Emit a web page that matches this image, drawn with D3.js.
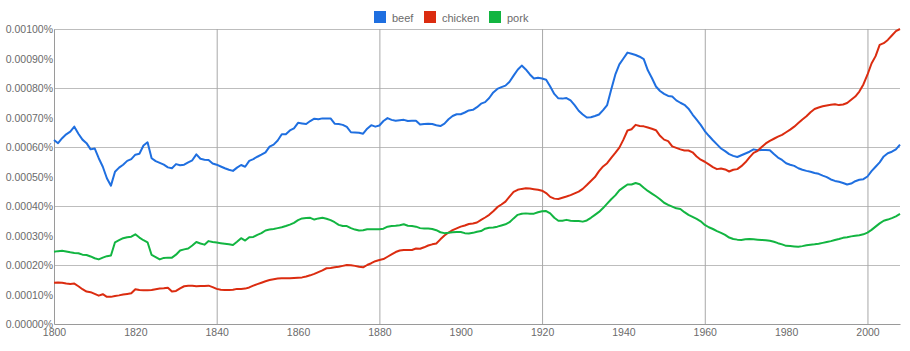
<!DOCTYPE html>
<html>
<head>
<meta charset="utf-8">
<script src="https://cdn.jsdelivr.net/npm/d3@7"></script>
<style>
    body { margin: 0; background: #fff; }
    #ngram-chart { width: 910px; height: 351px; }
    .chart-labels { font-family: "Liberation Sans", Arial, Helvetica, sans-serif; fill: #6b6b6b; }
</style>
</head>
<body>
<div id="ngram-chart"></div>
<script>
/* ----------------------- Data (values in units of 0.00001%) ----------------------- */
const startYear = 1800;
const endYear = 2008;
const seriesNames = ["beef", "chicken", "pork"];
const seriesColors = ["#1f6fe0", "#db2c10", "#12b541"];

const beef = [
    62.4, 61.3, 63.0, 64.3, 65.2, 66.9, 64.5, 62.5, 61.3, 59.2,
    59.5, 56.2, 53.3, 49.4, 46.9, 51.6, 53.0, 54.0, 55.3, 55.9,
    57.4, 57.7, 60.5, 61.6, 56.2, 55.2, 54.6, 54.0, 53.1, 52.8,
    54.2, 53.8, 54.0, 54.8, 55.5, 57.5, 56.0, 55.7, 55.6, 54.4,
    54.0, 53.4, 52.8, 52.3, 51.9, 53.0, 53.9, 53.3, 55.3, 55.9,
    56.7, 57.4, 58.2, 60.1, 60.8, 62.2, 64.3, 64.3, 65.6, 66.3,
    68.2, 68.0, 67.8, 68.8, 69.6, 69.4, 69.7, 69.7, 69.7, 67.9,
    67.8, 67.5, 66.8, 65.0, 64.9, 64.8, 64.5, 66.2, 67.4, 66.9,
    67.3, 68.8, 69.8, 69.2, 68.9, 69.1, 69.2, 68.8, 68.9, 68.9,
    67.6, 67.8, 67.9, 67.8, 67.4, 67.1, 67.9, 69.4, 70.5, 71.1,
    71.1, 71.7, 72.4, 72.6, 73.5, 74.7, 75.2, 76.6, 78.5, 79.7,
    80.3, 80.8, 82.1, 84.2, 86.2, 87.6, 86.3, 84.6, 83.2, 83.5,
    83.2, 82.8, 80.5, 78.0, 76.5, 76.4, 76.6, 75.8, 74.2, 72.3,
    71.0, 70.0, 70.1, 70.5, 71.0, 72.5, 74.2, 79.5, 84.5, 88.0,
    90.0, 92.0, 91.6, 91.2, 90.6, 89.8, 86.0, 83.4, 80.5, 79.0,
    78.0, 77.3, 77.1, 75.8, 75.0, 74.3, 73.0, 71.0, 69.3, 67.5,
    65.4, 63.8, 62.3, 60.9, 59.5, 58.6, 57.6, 57.0, 56.6, 57.2,
    57.8, 58.4, 59.2, 58.9, 59.0, 59.0, 58.9, 57.6, 56.4, 55.6,
    54.5, 54.0, 53.6, 52.8, 52.3, 51.9, 51.6, 51.2, 50.9, 50.3,
    49.8, 49.0, 48.5, 48.2, 47.8, 47.3, 47.6, 48.4, 48.9, 49.1,
    50.0, 51.8, 53.3, 54.8, 56.8, 57.9, 58.4, 59.2, 60.8
];

const chicken = [
    14.0, 14.1, 14.0, 13.7, 13.6, 13.7, 12.8, 11.8, 11.0, 10.8,
    10.2, 9.6, 10.1, 9.2, 9.2, 9.5, 9.7, 10.0, 10.2, 10.4,
    11.8, 11.5, 11.4, 11.4, 11.5, 11.8, 12.0, 12.1, 12.3, 11.0,
    11.2, 12.1, 12.8, 13.0, 13.0, 12.8, 12.9, 12.9, 13.0, 12.5,
    11.9, 11.6, 11.5, 11.5, 11.6, 11.9, 11.9, 12.0, 12.4, 13.0,
    13.5, 14.0, 14.5, 14.9, 15.2, 15.4, 15.5, 15.5, 15.5, 15.6,
    15.7, 15.8, 16.1, 16.5, 17.0, 17.6, 18.2, 18.9, 19.0, 19.2,
    19.4, 19.7, 20.0, 19.9, 19.7, 19.4, 19.2, 20.0, 20.6, 21.3,
    21.7, 22.0, 22.8, 23.6, 24.4, 24.9, 25.1, 25.1, 25.1, 25.6,
    25.5, 26.0, 26.6, 27.0, 27.3, 28.7, 30.0, 31.0, 31.8, 32.4,
    33.0, 33.4, 33.9, 34.1, 34.4, 35.3, 36.1, 37.0, 38.2, 39.6,
    40.5, 41.5, 43.2, 44.8, 45.5, 45.8, 46.0, 45.9, 45.7, 45.5,
    45.2, 44.4, 43.1, 42.5, 42.4, 42.8, 43.2, 43.7, 44.3, 44.9,
    45.8, 47.1, 48.5, 49.8, 51.8, 53.4, 54.5, 56.3, 58.0, 59.8,
    62.5, 65.6, 66.0, 67.5, 67.1, 67.0, 66.6, 66.2, 65.7, 63.8,
    62.5, 62.0, 60.2, 59.7, 59.2, 58.8, 58.8, 58.2, 56.8, 55.7,
    55.0, 54.1, 53.2, 52.5, 52.7, 52.4, 51.7, 52.3, 52.5, 53.5,
    54.8, 56.5, 58.0, 58.7, 60.0, 61.2, 62.1, 62.8, 63.5, 64.1,
    65.0, 65.9, 66.9, 68.1, 69.3, 70.4, 71.8, 72.9, 73.4, 73.8,
    74.1, 74.3, 74.5, 74.2, 74.4, 74.9, 76.0, 77.1, 78.8, 81.2,
    84.5, 88.3, 90.8, 94.6, 95.2, 96.3, 97.8, 99.3, 100.0
];

const pork = [
    24.5, 24.7, 24.8, 24.6, 24.3, 24.1, 24.0, 23.5, 23.4, 22.9,
    22.3, 21.9, 22.5, 23.0, 23.2, 27.7, 28.4, 29.1, 29.4, 29.6,
    30.4, 29.3, 28.4, 27.7, 23.4, 22.7, 21.9, 22.4, 22.5, 22.5,
    23.5, 24.9, 25.3, 25.6, 26.6, 27.8, 27.3, 26.9, 28.1, 27.8,
    27.6, 27.4, 27.2, 27.0, 26.8, 27.9, 29.1, 28.3, 29.4, 29.5,
    30.2, 30.8, 31.7, 32.0, 32.2, 32.5, 32.8, 33.2, 33.7, 34.3,
    35.2, 35.8, 35.9, 36.0, 35.4, 35.8, 36.0, 35.7, 35.2, 34.5,
    33.6, 33.2, 33.2, 32.5, 32.0, 31.7, 31.8, 32.1, 32.1, 32.1,
    32.1, 32.3, 33.0, 33.2, 33.3, 33.5, 33.8, 33.3, 33.2, 33.0,
    32.5, 32.4, 32.4, 32.2, 31.8, 31.1, 30.8, 30.9, 31.1, 31.2,
    31.2, 30.8, 30.7, 30.9, 31.3, 31.5, 32.3, 32.6, 32.7, 33.0,
    33.4, 33.8, 34.5, 35.8, 37.0, 37.4, 37.5, 37.4, 37.4, 37.9,
    38.2, 38.3, 37.5, 36.0, 35.0, 35.0, 35.3, 35.0, 34.9, 34.9,
    34.7, 35.1, 36.0, 37.0, 38.0, 39.3, 40.8, 42.3, 43.6, 45.3,
    46.3, 47.3, 47.3, 47.8, 47.4, 46.2, 45.1, 44.2, 43.3, 42.3,
    41.1, 40.4, 39.8, 39.2, 39.0, 37.9, 37.0, 36.3, 35.6, 34.8,
    33.6, 32.8, 32.2, 31.5, 30.9, 30.2, 29.3, 28.8, 28.6, 28.5,
    28.7, 28.8, 28.7, 28.6, 28.5, 28.4, 28.2, 27.9, 27.4, 27.0,
    26.5, 26.4, 26.3, 26.2, 26.4, 26.7, 26.9, 27.0, 27.2, 27.5,
    27.8, 28.1, 28.5, 28.8, 29.2, 29.4, 29.7, 29.9, 30.1, 30.4,
    31.0, 31.9, 33.0, 34.1, 35.0, 35.4, 35.9, 36.5, 37.3
];

const yTickValues = d3.range(0, 101, 10);
const yGridValues = d3.range(20, 101, 20);
const xTickValues = d3.range(1800, 2001, 20);
const xGridValues = [1840, 1880, 1920, 1960, 2000];

(function () {
    const containerWidth = 910;
    const containerHeight = 351;
    const margin = { top: 29, right: 10, bottom: 27, left: 54 };
    const width = containerWidth - margin.left - margin.right;
    const height = containerHeight - margin.top - margin.bottom;

    const root = d3.select("#ngram-chart")
        .append("svg")
        .attr("width", containerWidth)
        .attr("height", containerHeight);

    const svg = root.append("g")
        .attr("transform", `translate(${margin.left},${margin.top})`);

    /* ----------------------- Scales ----------------------- */
    const x = d3.scaleLinear().domain([startYear, endYear]).range([0, width]);
    const y = d3.scaleLinear().domain([0, 100]).range([height, 0]);
    const color = d3.scaleOrdinal().domain(seriesNames).range(seriesColors);

    const years = d3.range(startYear, endYear + 1);
    const seriesData = [beef, chicken, pork].map((vals, i) => ({
        key: seriesNames[i],
        values: vals.map((v, j) => ({ year: years[j], value: v }))
    }));

    /* ----------------------- Grid ----------------------- */
    const yGrid = svg.append("g")
        .call(d3.axisLeft(y).tickValues(yGridValues).tickSize(-width).tickFormat(""));
    yGrid.select(".domain").remove();
    yGrid.selectAll(".tick line").attr("stroke", "#bdbdbd");

    const xGrid = svg.append("g")
        .attr("transform", `translate(0,${height})`)
        .call(d3.axisBottom(x).tickValues(xGridValues).tickSize(-height).tickFormat(""));
    xGrid.select(".domain").remove();
    xGrid.selectAll(".tick line").attr("stroke", "#a8a8a8");

    /* ----------------------- Axes ----------------------- */
    const yAxis = svg.append("g")
        .call(d3.axisLeft(y).tickValues(yTickValues).tickSize(0).tickPadding(1)
            .tickFormat((d) => d3.format(".5f")(d / 100000) + "%"));
    yAxis.select(".domain").attr("stroke", "#9a9a9a");
    yAxis.selectAll(".tick text")
        .attr("class", "chart-labels")
        .style("font-size", "10.5px")
        .attr("dy", "0.35em");

    const xAxis = svg.append("g")
        .attr("transform", `translate(0,${height})`)
        .call(d3.axisBottom(x).tickValues(xTickValues).tickSize(0).tickPadding(5)
            .tickFormat(d3.format("d")));
    xAxis.select(".domain").attr("stroke", "#9a9a9a");
    xAxis.selectAll(".tick text")
        .attr("class", "chart-labels")
        .style("font-size", "10.5px");

    /* ----------------------- Lines ----------------------- */
    const line = d3.line()
        .x((d) => x(d.year))
        .y((d) => y(d.value));

    svg.selectAll(".series-line")
        .data(seriesData)
        .enter()
        .append("path")
        .attr("class", "series-line")
        .attr("fill", "none")
        .attr("stroke", (d) => color(d.key))
        .attr("stroke-width", 2)
        .attr("stroke-linejoin", "round")
        .attr("d", (d) => line(d.values));

    /* ----------------------- Legend ----------------------- */
    const legendX = [374, 424, 489];
    const legend = root.selectAll(".legend")
        .data(seriesNames)
        .enter()
        .append("g")
        .attr("class", "legend")
        .attr("transform", (d, i) => `translate(${legendX[i]},11)`);

    legend.append("rect")
        .attr("width", 12)
        .attr("height", 12)
        .attr("fill", (d) => color(d));

    legend.append("text")
        .attr("class", "chart-labels")
        .attr("x", 18)
        .attr("y", 10.5)
        .style("font-size", "11px")
        .text((d) => d);
})();
</script>
</body>
</html>
